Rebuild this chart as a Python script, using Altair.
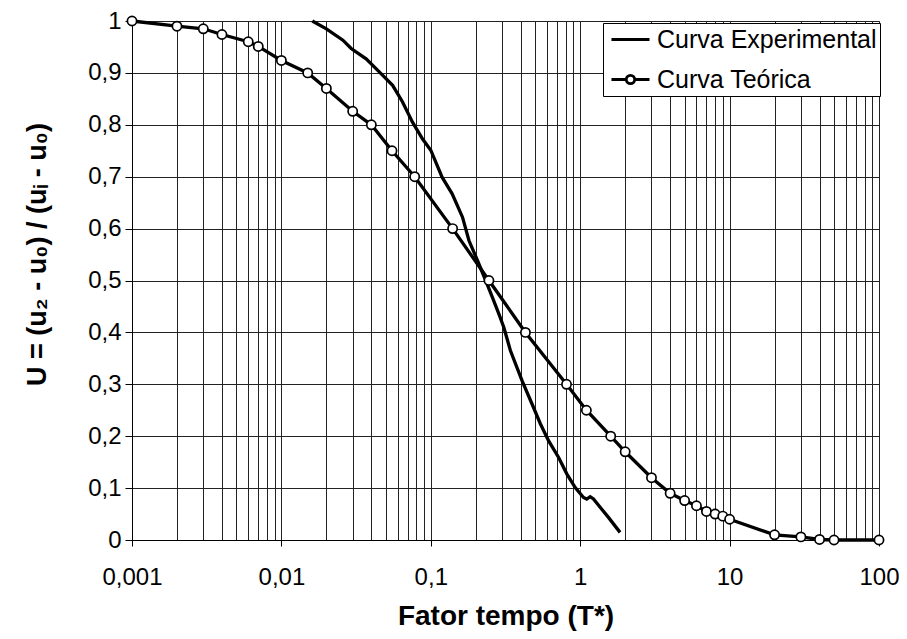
import altair as alt
import pandas as pd

# Curva Teórica (markers)
t_teo = [0.001, 0.002, 0.003, 0.004, 0.006, 0.007, 0.01, 0.015, 0.02, 0.03, 0.04,
         0.055, 0.078, 0.14, 0.245, 0.43, 0.81, 1.1, 1.6, 2, 3,
         4, 5, 6, 7, 8, 9, 10, 20, 30, 40, 50, 100]
u_teo = [1, 0.99, 0.985, 0.974, 0.96, 0.951, 0.924, 0.9, 0.87, 0.826, 0.8,
         0.75, 0.7, 0.6, 0.5, 0.4, 0.3, 0.25, 0.2, 0.17, 0.12,
         0.09, 0.076, 0.066, 0.055, 0.05, 0.046, 0.04, 0.01, 0.006, 0.001, 0, 0]

# Curva Experimental
t_exp = [0.0161, 0.02, 0.0258, 0.0293, 0.0369, 0.0452, 0.0555, 0.0647, 0.0754, 0.0879,
         0.1, 0.119, 0.139, 0.163, 0.18, 0.205, 0.233, 0.258, 0.285, 0.308,
         0.341, 0.408, 0.476, 0.541, 0.615, 0.717, 0.815, 0.926, 1.052, 1.107,
         1.166, 1.227, 1.36, 1.545, 1.848]
u_exp = [1.0, 0.985, 0.963, 0.947, 0.927, 0.902, 0.876, 0.844, 0.805, 0.773,
         0.751, 0.699, 0.667, 0.622, 0.577, 0.539, 0.5, 0.468, 0.436, 0.41,
         0.365, 0.307, 0.262, 0.224, 0.191, 0.159, 0.127, 0.101, 0.082, 0.079,
         0.0835, 0.079, 0.063, 0.0436, 0.0147]

series_names = ["Curva Experimental", "Curva Teórica"]

x_grid = [0.001, 0.002, 0.003, 0.004, 0.005, 0.006, 0.007, 0.008, 0.009,
          0.01, 0.02, 0.03, 0.04, 0.05, 0.06, 0.07, 0.08, 0.09,
          0.1, 0.2, 0.3, 0.4, 0.5, 0.6, 0.7, 0.8, 0.9,
          1, 2, 3, 4, 5, 6, 7, 8, 9,
          10, 20, 30, 40, 50, 60, 70, 80, 90, 100]
y_ticks = [0, 0.1, 0.2, 0.3, 0.4, 0.5, 0.6, 0.7, 0.8, 0.9, 1.0]

df_teo = pd.DataFrame({"T": t_teo, "U": u_teo, "serie": series_names[1]})
df_exp = pd.DataFrame({"T": t_exp, "U": u_exp, "serie": series_names[0]})
df_all = pd.concat([df_exp, df_teo], ignore_index=True)

FONT = "Liberation Sans"
decade = "abs(log(datum.value)/LN10 - round(log(datum.value)/LN10)) < 0.001"

x_enc = alt.X(
    "T:Q",
    scale=alt.Scale(type="log", domain=[0.001, 100]),
    axis=alt.Axis(
        values=x_grid,
        grid=True, gridColor="#222", gridWidth=1,
        tickSize=6, tickColor="black",
        tickOpacity={"condition": {"test": decade, "value": 1}, "value": 0},
        domainColor="black", domainWidth=1,
        labelExpr=f"({decade}) ? replace(toString(datum.value), '.', ',') : ''",
        labelFont=FONT, labelFontSize=24, labelColor="black", labelPadding=19,
        labelOverlap=False, labelFlush=False, labelBound=False,
        title="Fator tempo (T*)", titleFont=FONT, titleFontSize=28,
        titleFontWeight="bold", titleColor="black",
        titleY=84, titleBaseline="alphabetic",
    ),
)
y_enc = alt.Y(
    "U:Q",
    scale=alt.Scale(domain=[0, 1], nice=False),
    axis=alt.Axis(
        values=y_ticks,
        grid=True, gridColor="#222", gridWidth=1,
        tickSize=7, tickColor="black",
        domainColor="black", domainWidth=1,
        labelExpr="replace(format(datum.value, '.1~f'), '.', ',')",
        labelFont=FONT, labelFontSize=24, labelColor="black", labelPadding=4,
        title="U = (u₂ - u₀) / (uᵢ - u₀)", titleFont=FONT, titleFontSize=27,
        titleFontWeight="bold", titleColor="black",
        titleX=-95, titleY=233, titleAngle=270, titleAlign="center",
        titleBaseline="middle",
    ),
)

line_exp = alt.Chart(df_exp).mark_line(color="black", strokeWidth=3.3).encode(x=x_enc, y=y_enc)
line_teo = alt.Chart(df_teo).mark_line(color="black", strokeWidth=3.3).encode(x=x_enc, y=y_enc)
pts_teo = alt.Chart(df_teo).mark_point(
    shape="circle", filled=True, fill="white", stroke="black", strokeWidth=1.7, size=85, opacity=1
).encode(x=x_enc, y=y_enc)

# legend symbols (units: 1 = 12 px with symbolSize 576)
path_line = "M-0.67,0L2.5,0"
path_circ = ("M-0.67,0L0.565,0M1.265,0L2.5,0M1.265,0A0.35,0.35 0 1,1 0.565,0"
             "A0.35,0.35 0 1,1 1.265,0Z")

legend_layer = alt.Chart(df_all).transform_filter("false").mark_point(
    filled=False, color="black", strokeWidth=2.5
).encode(
    x=x_enc, y=y_enc,
    shape=alt.Shape(
        "serie:N",
        scale=alt.Scale(domain=series_names, range=[path_line, path_circ]),
        legend=alt.Legend(
            title=None, orient="none", legendX=471, legendY=2,
            fillColor="white", strokeColor="black", padding=3,
            labelFont=FONT, labelFontSize=25, labelColor="black", labelOffset=24,
            labelLimit=500,
            symbolSize=576, symbolStrokeWidth=2.8, symbolStrokeColor="black",
            symbolOpacity=1, rowPadding=13,
        ),
    ),
)

chart = alt.layer(line_exp, line_teo, pts_teo, legend_layer).properties(
    width=747, height=519,
    padding={"left": 124, "top": 13, "right": 20, "bottom": 91},
    autosize=alt.AutoSizeParams(type="none"),
).configure_view(stroke=None).configure(background="white")

chart.save("out.html", embed_options={"renderer": "svg", "actions": False})
